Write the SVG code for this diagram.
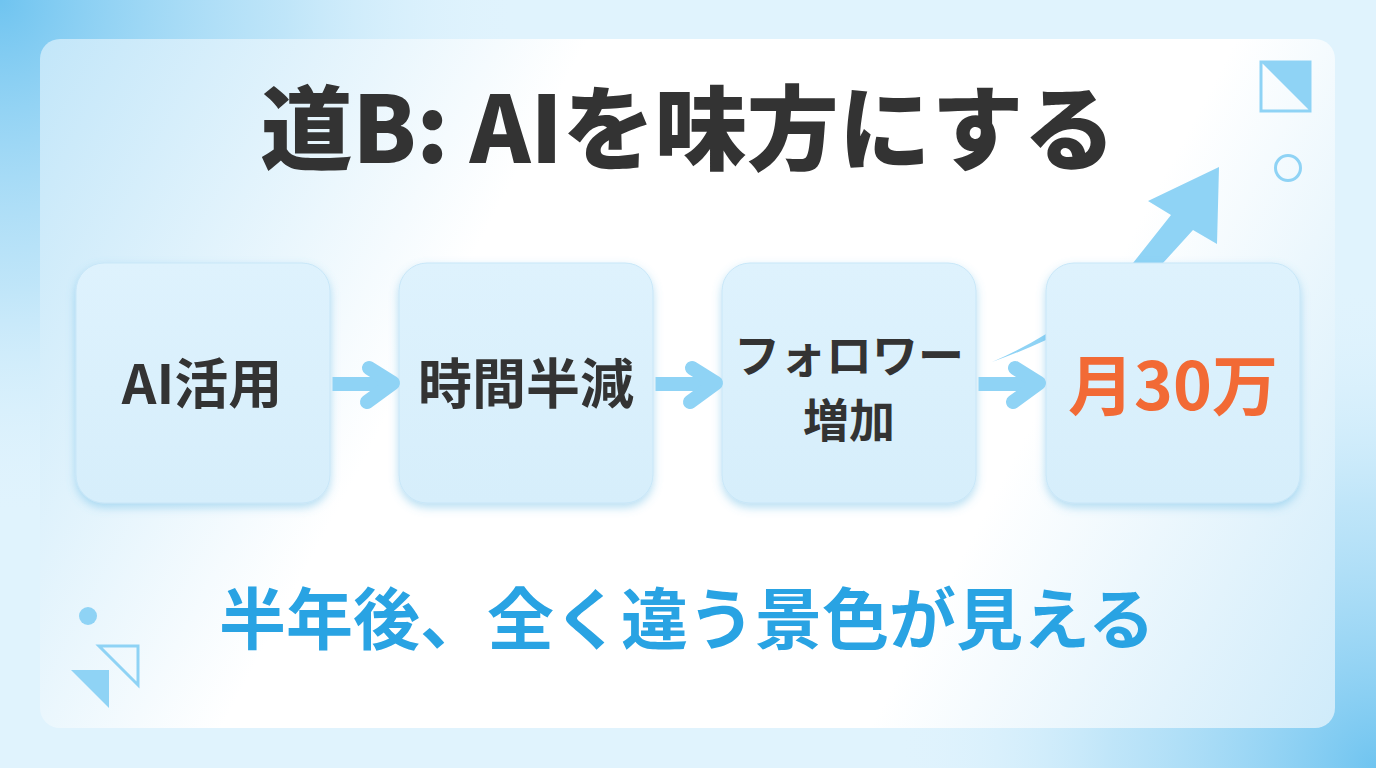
<svg xmlns="http://www.w3.org/2000/svg" width="1376" height="768" viewBox="0 0 1376 768">
  <defs>
    <radialGradient id="bgTL" cx="0" cy="0" r="520" gradientUnits="userSpaceOnUse">
      <stop offset="0" stop-color="#6fc4f0"/>
      <stop offset="0.55" stop-color="#a9dcf6" stop-opacity="0.6"/>
      <stop offset="1" stop-color="#e0f3fd" stop-opacity="0"/>
    </radialGradient>
    <radialGradient id="bgBR" cx="1376" cy="768" r="480" gradientUnits="userSpaceOnUse">
      <stop offset="0" stop-color="#6fc4f0"/>
      <stop offset="0.55" stop-color="#a9dcf6" stop-opacity="0.6"/>
      <stop offset="1" stop-color="#e0f3fd" stop-opacity="0"/>
    </radialGradient>
    <linearGradient id="panelG" x1="40" y1="39" x2="1335" y2="728" gradientUnits="userSpaceOnUse">
      <stop offset="0" stop-color="#c2e6f9"/>
      <stop offset="0.33" stop-color="#ffffff"/>
      <stop offset="0.72" stop-color="#ffffff"/>
      <stop offset="1" stop-color="#cfebfa"/>
    </linearGradient>
    <linearGradient id="cardG" x1="0" y1="0" x2="0" y2="1">
      <stop offset="0" stop-color="#def2fd"/>
      <stop offset="1" stop-color="#d6eefb"/>
    </linearGradient>
    <filter id="shadow" x="-20%" y="-20%" width="140%" height="140%">
      <feDropShadow dx="0" dy="4" stdDeviation="5" flood-color="#5fb6e4" flood-opacity="0.45"/>
    </filter>
    <g id="arrowShape">
      <rect x="0" y="-6.5" width="52" height="13"/>
      <polyline points="36,-16 60,-1 34,18" fill="none" stroke-width="14" stroke-linecap="round" stroke-linejoin="round"/>
    </g>
  </defs>
  <style>
    .jp { font-family: "Noto Sans CJK JP", "Noto Sans", sans-serif; font-weight: 700; }
    .title { font-size: 92px; fill: #333333; font-weight: 900; }
    .dark { fill: #333333; }
    .card { fill: url(#cardG); filter: url(#shadow); stroke: #c8e7f8; stroke-width: 1; }
    .arrow { fill: #8fd3f5; stroke: #8fd3f5; }
    .deco { fill: #8fd3f5; }
    .decoLine { fill: none; stroke: #8fd3f5; stroke-width: 3; }
  </style>

  <!-- background -->
  <rect x="0" y="0" width="1376" height="768" fill="#e0f3fd"/>
  <rect x="0" y="0" width="1376" height="768" fill="url(#bgTL)"/>
  <rect x="0" y="0" width="1376" height="768" fill="url(#bgBR)"/>

  <!-- panel -->
  <rect x="40" y="39" width="1295" height="689" rx="20" fill="url(#panelG)"/>

  <!-- decorations -->
  <g id="deco-top-right">
    <polygon points="1261,62 1310,62 1310,111" class="deco"/>
    <rect x="1261" y="62" width="49" height="49" class="decoLine"/>
    <circle cx="1288" cy="168" r="12.5" class="decoLine"/>
  </g>
  <g id="deco-bottom-left">
    <circle cx="88" cy="616" r="9" class="deco"/>
    <polygon points="99,646 138,646 138,685" class="decoLine" stroke-width="2.5"/>
    <polygon points="71,670 109,670 109,708" class="deco"/>
  </g>

  <!-- growth arrow (behind last card) -->
  <g id="growth-arrow">
    <path d="M992,362 Q1020,350 1046,334 Q1095,300 1133,263 L1171,215 L1148,201 L1219,167 L1217,244 L1193,230 L1163,263 Q1110,310 1046,340 Q1020,352 992,362 Z" fill="#8fd3f5"/>
  </g>

  <!-- title -->
  <g id="title">
    <text x="688" y="163" text-anchor="middle" class="jp title">道B: AIを味方にする</text>
  </g>

  <!-- nodes -->
  <g id="node-ai">
    <rect x="76" y="263" width="254" height="240" rx="28" class="card"/>
    <text x="202" y="404" text-anchor="middle" class="jp dark" font-size="54">AI活用</text>
  </g>
  <g id="node-time">
    <rect x="399" y="263" width="254" height="240" rx="28" class="card"/>
    <text x="526" y="404" text-anchor="middle" class="jp dark" font-size="54">時間半減</text>
  </g>
  <g id="node-follower">
    <rect x="722" y="263" width="254" height="240" rx="28" class="card"/>
    <text x="849" y="372" text-anchor="middle" class="jp dark" font-size="46">フォロワー</text>
    <text x="849" y="437" text-anchor="middle" class="jp dark" font-size="46">増加</text>
  </g>
  <g id="node-income">
    <rect x="1046" y="263" width="254" height="240" rx="28" class="card"/>
    <text x="1173" y="410" text-anchor="middle" class="jp" font-size="66" fill="#f26a35">月30万</text>
  </g>

  <!-- connectors -->
  <g id="connectors" class="arrow">
    <use href="#arrowShape" transform="translate(333,384)"/>
    <use href="#arrowShape" transform="translate(656,384)"/>
    <use href="#arrowShape" transform="translate(979,384)"/>
  </g>

  <!-- subtitle -->
  <g id="subtitle">
    <text x="687" y="644" text-anchor="middle" class="jp" font-size="67" fill="#29a3e3">半年後、全く違う景色が見える</text>
  </g>
</svg>
